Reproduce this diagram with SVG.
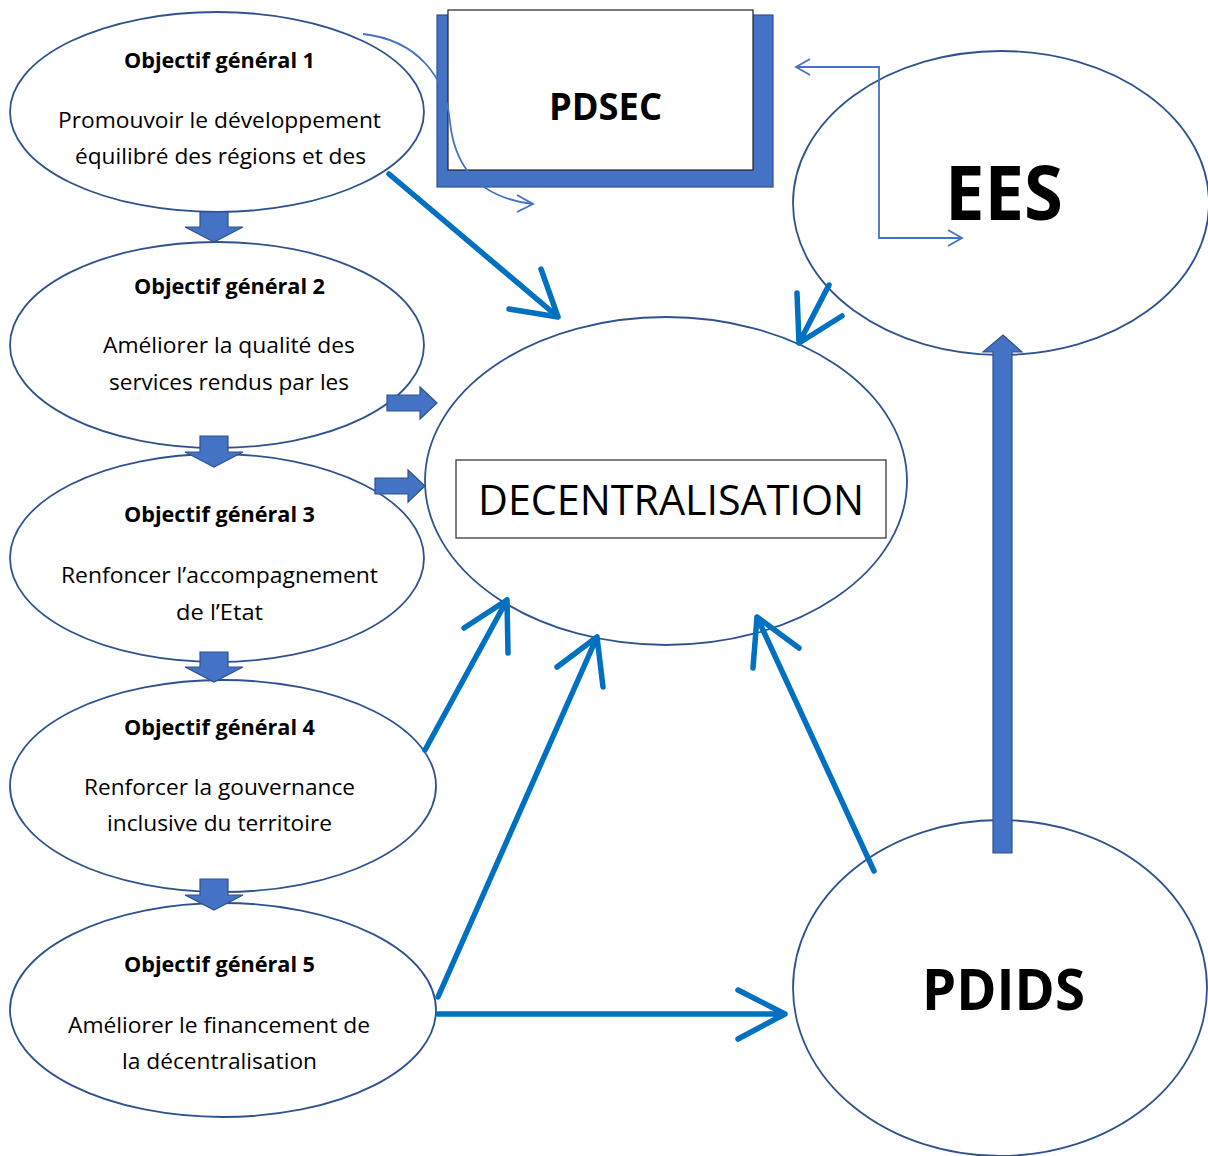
<svg xmlns="http://www.w3.org/2000/svg" width="1208" height="1156" viewBox="0 0 1208 1156">
  <style>
    .node { fill: #ffffff; stroke: #2F528F; stroke-width: 1.8; }
    .block { fill: #4472C4; stroke: #2F528F; stroke-width: 1.2; }
    .thick { fill: none; stroke: #0070C0; stroke-width: 5.5; stroke-linecap: round; stroke-linejoin: round; }
    .thin { fill: none; stroke: #4472C4; stroke-width: 1.8; }
    .title { font-family: "Open Sans", "Liberation Sans", sans-serif; font-weight: bold; font-size: 22px; fill: #000; text-anchor: middle; }
    .body { font-family: "Open Sans", "Liberation Sans", sans-serif; font-size: 22px; fill: #000; text-anchor: middle; }
    .label { font-family: "Open Sans", "Liberation Sans", sans-serif; font-size: 42px; fill: #000; text-anchor: middle; }
    .big { font-family: "Open Sans", "Liberation Sans", sans-serif; font-weight: bold; fill: #000; text-anchor: middle; }
  </style>

  <rect width="1208" height="1156" fill="#ffffff"/>

  <!-- objective chain -->
  <g id="objectif-1">
    <ellipse class="node" cx="217" cy="112" rx="207" ry="100"/>
    <text class="title" x="219.5" y="68" textLength="191" lengthAdjust="spacingAndGlyphs">Objectif général 1</text>
    <text class="body" x="219.5" y="128" textLength="323" lengthAdjust="spacingAndGlyphs">Promouvoir le développement</text>
    <text class="body" x="220.5" y="164" textLength="291" lengthAdjust="spacingAndGlyphs">équilibré des régions et des</text>
  </g>

  <g id="objectif-2">
    <ellipse class="node" cx="217" cy="345" rx="207" ry="103"/>
    <text class="title" x="229.5" y="294" textLength="191" lengthAdjust="spacingAndGlyphs">Objectif général 2</text>
    <text class="body" x="229" y="353" textLength="252" lengthAdjust="spacingAndGlyphs">Améliorer la qualité des</text>
    <text class="body" x="229" y="390" textLength="240" lengthAdjust="spacingAndGlyphs">services rendus par les</text>
  </g>

  <g id="objectif-3">
    <ellipse class="node" cx="217" cy="558" rx="207" ry="104"/>
    <text class="title" x="219.5" y="522" textLength="191" lengthAdjust="spacingAndGlyphs">Objectif général 3</text>
    <text class="body" x="219.5" y="583" textLength="317" lengthAdjust="spacingAndGlyphs">Renfoncer l’accompagnement</text>
    <text class="body" x="219.5" y="620" textLength="87" lengthAdjust="spacingAndGlyphs">de l’Etat</text>
  </g>

  <g id="objectif-4">
    <ellipse class="node" cx="223" cy="786" rx="213" ry="106"/>
    <text class="title" x="219.5" y="735" textLength="191" lengthAdjust="spacingAndGlyphs">Objectif général 4</text>
    <text class="body" x="219.5" y="795" textLength="271" lengthAdjust="spacingAndGlyphs">Renforcer la gouvernance</text>
    <text class="body" x="219.5" y="831" textLength="225" lengthAdjust="spacingAndGlyphs">inclusive du territoire</text>
  </g>

  <g id="objectif-5">
    <ellipse class="node" cx="223" cy="1010" rx="213" ry="107"/>
    <text class="title" x="219.5" y="972" textLength="191" lengthAdjust="spacingAndGlyphs">Objectif général 5</text>
    <text class="body" x="219" y="1033" textLength="302" lengthAdjust="spacingAndGlyphs">Améliorer le financement de</text>
    <text class="body" x="219.5" y="1069" textLength="195" lengthAdjust="spacingAndGlyphs">la décentralisation</text>
  </g>

  <!-- central node -->
  <g id="decentralisation">
    <ellipse class="node" cx="666" cy="481" rx="241" ry="164"/>
    <rect x="456" y="460" width="430" height="78" fill="#ffffff" stroke="#3a3a3a" stroke-width="1.3"/>
    <text class="label" x="671" y="515" textLength="386" lengthAdjust="spacingAndGlyphs">DECENTRALISATION</text>
  </g>

  <!-- PDSEC box with offset shadow -->
  <g id="pdsec">
    <rect x="437" y="15" width="336" height="172" fill="#4472C4" stroke="#2F528F" stroke-width="1.2"/>
    <rect x="448" y="10" width="305" height="160" fill="#ffffff" stroke="#222222" stroke-width="1.2"/>
    <text class="big" x="605.5" y="120" font-size="38" textLength="113" lengthAdjust="spacingAndGlyphs">PDSEC</text>
  </g>

  <g id="ees">
    <ellipse class="node" cx="1001" cy="203" rx="208" ry="152"/>
    <text class="big" x="1004" y="220" font-size="75" textLength="118" lengthAdjust="spacingAndGlyphs">EES</text>
  </g>

  <g id="pdids">
    <ellipse class="node" cx="1000" cy="988" rx="207" ry="168"/>
    <text class="big" x="1003.5" y="1010" font-size="58" textLength="163" lengthAdjust="spacingAndGlyphs">PDIDS</text>
  </g>

  <!-- connectors -->
  <g id="connectors">
    <!-- block arrows down the objective chain -->
    <path class="block" d="M200,212 h28 v15 h15 l-29,15 l-29,-15 h15 z"/>
    <path class="block" d="M200,436 h28 v16 h15 l-29,15 l-29,-15 h15 z"/>
    <path class="block" d="M200,652 h28 v15 h15 l-29,15 l-29,-15 h15 z"/>
    <path class="block" d="M200,879 h28 v16 h15 l-29,15 l-29,-15 h15 z"/>

    <!-- block arrows into the central node -->
    <path class="block" d="M387,395 h33 v-8 l17,16 l-17,16 v-8 h-33 z"/>
    <path class="block" d="M375,478 h33 v-8 l17,16 l-17,16 v-8 h-33 z"/>

    <!-- PDIDS up to EES -->
    <path class="block" d="M993,853 v-501 h-10 l20,-17 l19,17 h-10 v501 z"/>

    <!-- thick open-headed arrows -->
    <path class="thick" d="M389,174 L558,317 M541,269 L558,317 L509,309"/>
    <path class="thick" d="M829,285 L799,343 M797,293 L799,343 L842,316"/>
    <path class="thick" d="M425,750 L507,600 M464,628 L507,600 L508,653"/>
    <path class="thick" d="M438,997 L597,637 M557,667 L597,637 L603,687"/>
    <path class="thick" d="M874,871 L757,617 M753,668 L757,617 L799,648"/>
    <path class="thick" d="M438,1014 L785,1014 M738,990 L785,1014 L738,1039"/>

    <!-- curved link from objective 1 past PDSEC -->
    <path class="thin" d="M363,34 C418,40 446,78 450,122 C455,170 482,198 533,204"/>
    <path class="thin" d="M517,195 L533,204 L517,212"/>

    <!-- elbow link between PDSEC and EES -->
    <path class="thin" d="M796,67 L879,67 L879,238 L962,238"/>
    <path class="thin" d="M810,59 L796,67 L810,75"/>
    <path class="thin" d="M948,230 L962,238 L948,246"/>
  </g>
</svg>
